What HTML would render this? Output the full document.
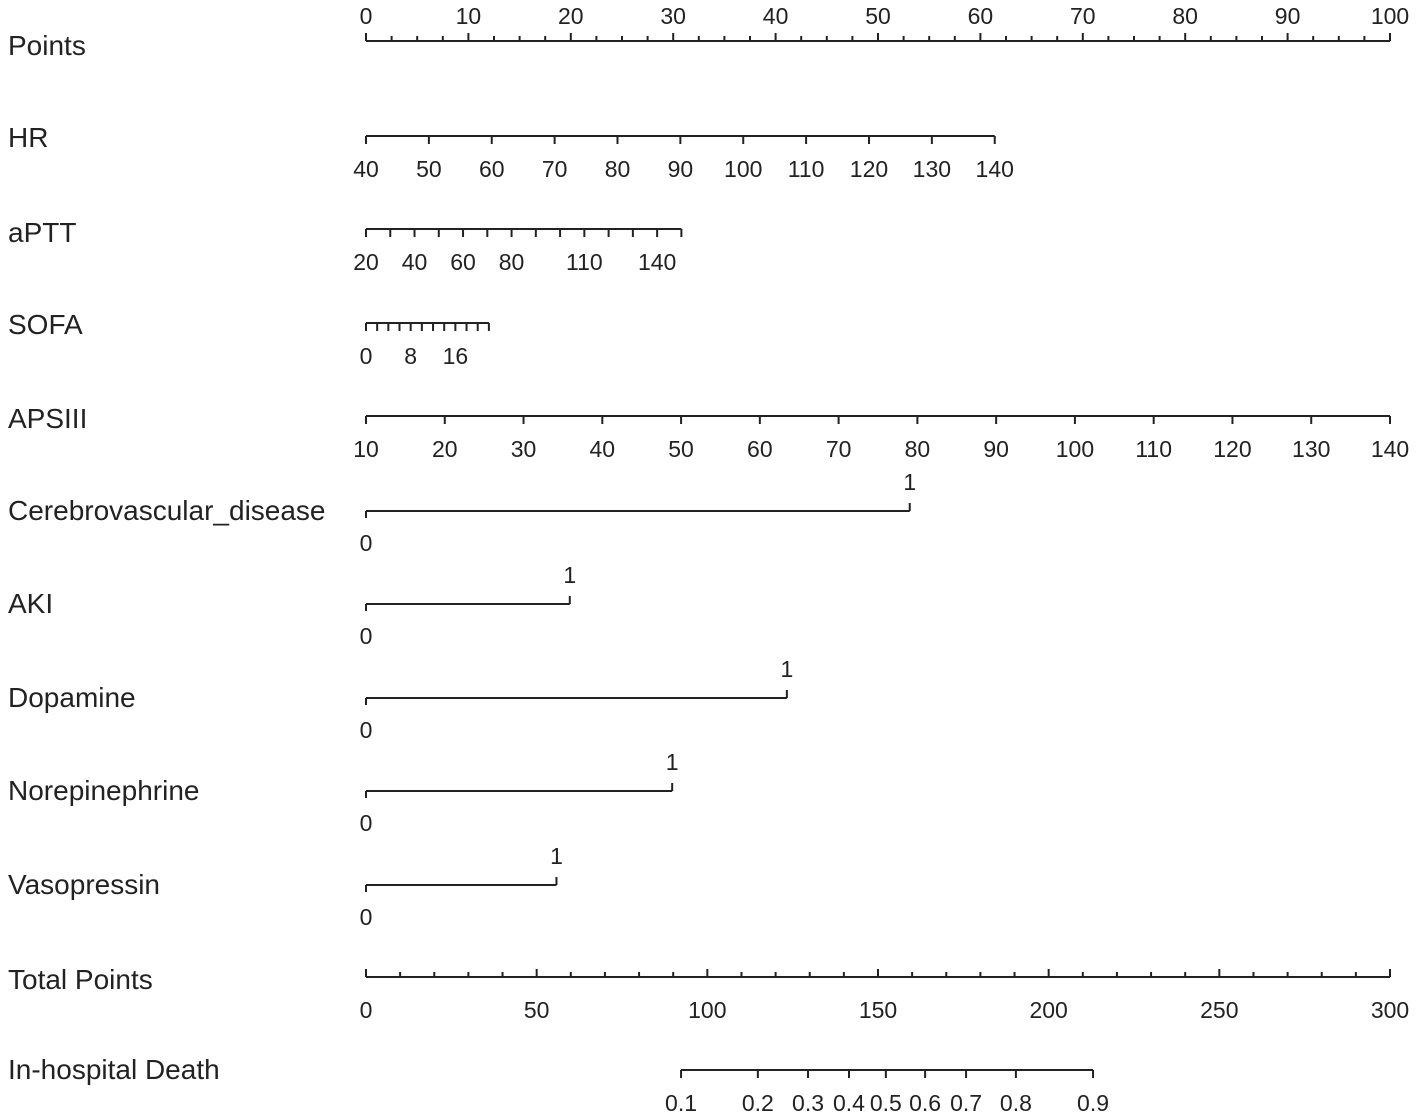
<!DOCTYPE html>
<html><head><meta charset="utf-8"><style>
html,body{margin:0;padding:0;background:#fff;}
svg{display:block;font-family:"Liberation Sans",Arial,sans-serif;fill:#222;}
</style></head><body>
<svg id="nomo" width="1418" height="1118" viewBox="0 0 1418 1118"></svg>
<script>
// ---- data ----
const pointsTicks = [0,10,20,30,40,50,60,70,80,90,100];
const hrValues = [40,50,60,70,80,90,100,110,120,130,140];
const hrMaxPoints = 61.4;            // points at HR=140
const apttTickValues = [20,30,40,50,60,70,80,90,100,110,120,130,140,150];
const apttLabels = [20,40,60,80,110,140];
const apttMaxPoints = 30.8;          // points at aPTT=150
const sofaTickValues = [0,2,4,6,8,10,12,14,16,18,20,22];
const sofaLabels = [0,8,16];
const sofaMaxPoints = 12.0;          // points at SOFA=22
const apsValues = [10,20,30,40,50,60,70,80,90,100,110,120,130,140];
const apsMaxPoints = 100;
const binaryNames = ["Cerebrovascular_disease","AKI","Dopamine","Norepinephrine","Vasopressin"];
const binaryPoints = [53.1,19.9,41.1,29.9,18.6];
const totalTicks = [0,50,100,150,200,250,300];
const deathProbs = [0.1,0.2,0.3,0.4,0.5,0.6,0.7,0.8,0.9];
const deathTotalPoints = [92.3,114.8,129.5,141.5,152.3,163.8,175.8,190.4,213.0];

// ---- scales ----
const X0 = 366, X1 = 1390;
const px = p => X0 + (X1 - X0) * p / 100;
const tx = t => X0 + (X1 - X0) * t / 300;
const svg = document.getElementById('nomo');
const NS = 'http://www.w3.org/2000/svg';
function line(x1,y1,x2,y2,name){
  const l=document.createElementNS(NS,'line');
  l.setAttribute('x1',x1);l.setAttribute('y1',y1);l.setAttribute('x2',x2);l.setAttribute('y2',y2);
  l.setAttribute('stroke','#222');l.setAttribute('stroke-width','2');
  
  
  svg.appendChild(l);
}
function text(x,y,s,size,anchor,name){
  const t=document.createElementNS(NS,'text');
  t.setAttribute('x',x);t.setAttribute('y',y);t.setAttribute('font-size',size);
  t.setAttribute('text-anchor',anchor);t.textContent=s;
  
  
  svg.appendChild(t);
}
function rowLabel(y,s){ text(8,y,s,28,'start','row-label'); }
const NF = 23;

// Points
rowLabel(55,'Points');
line(px(0),41,px(100),41,'points-axis');
for(let p=0;p<=100;p+=2.5){ const major=p%10===0; line(px(p),41,px(p),major?33:36,'points-tick'); }
pointsTicks.forEach(v=>text(px(v),24,String(v),NF,'middle','points-tick-label'));

// continuous variable helper (ticks down)
function contAxis(y,vals,maxPts,labels,name){
  const vmin=vals[0], vmax=vals[vals.length-1];
  const f=v=>px(maxPts*(v-vmin)/(vmax-vmin));
  line(f(vmin),y,f(vmax),y,name+'-axis');
  vals.forEach(v=>line(f(v),y,f(v),y+8,name+'-tick'));
  labels.forEach(v=>text(f(v),y+41,String(v),NF,'middle',name+'-tick-label'));
}
rowLabel(147,'HR');
contAxis(136,hrValues,hrMaxPoints,hrValues,'hr');
rowLabel(242,'aPTT');
contAxis(229,apttTickValues,apttMaxPoints,apttLabels,'aptt');
rowLabel(334,'SOFA');
contAxis(323,sofaTickValues,sofaMaxPoints,sofaLabels,'sofa');
rowLabel(428,'APSIII');
contAxis(416,apsValues,apsMaxPoints,apsValues,'apsiii');

// binary variables
const binY=[511,604,698,791,885];
binaryNames.forEach((n,i)=>{
  const y=binY[i];
  rowLabel(y+9,n);
  line(px(0),y,px(binaryPoints[i]),y,'binary-axis');
  line(px(0),y,px(0),y+7,'binary-tick-0');
  line(px(binaryPoints[i]),y,px(binaryPoints[i]),y-8,'binary-tick-1');
  text(px(0),y+40,'0',NF,'middle','binary-label-0');
  text(px(binaryPoints[i]),y-21,'1',NF,'middle','binary-label-1');
});

// Total points
rowLabel(989,'Total Points');
line(tx(0),977,tx(300),977,'total-points-axis');
for(let t=0;t<=300;t+=10){ const major=t%50===0; line(tx(t),977,tx(t),major?969:972,'total-points-tick'); }
totalTicks.forEach(v=>text(tx(v),1018,String(v),NF,'middle','total-points-tick-label'));

// In-hospital death
rowLabel(1079,'In-hospital Death');
line(tx(deathTotalPoints[0]),1070,tx(deathTotalPoints[deathTotalPoints.length-1]),1070,'death-axis');
deathProbs.forEach((p,i)=>{
  const x=tx(deathTotalPoints[i]);
  line(x,1070,x,1078,'death-tick');
  text(x,1111,String(p),NF,'middle','death-tick-label');
});
</script>
</body></html>
